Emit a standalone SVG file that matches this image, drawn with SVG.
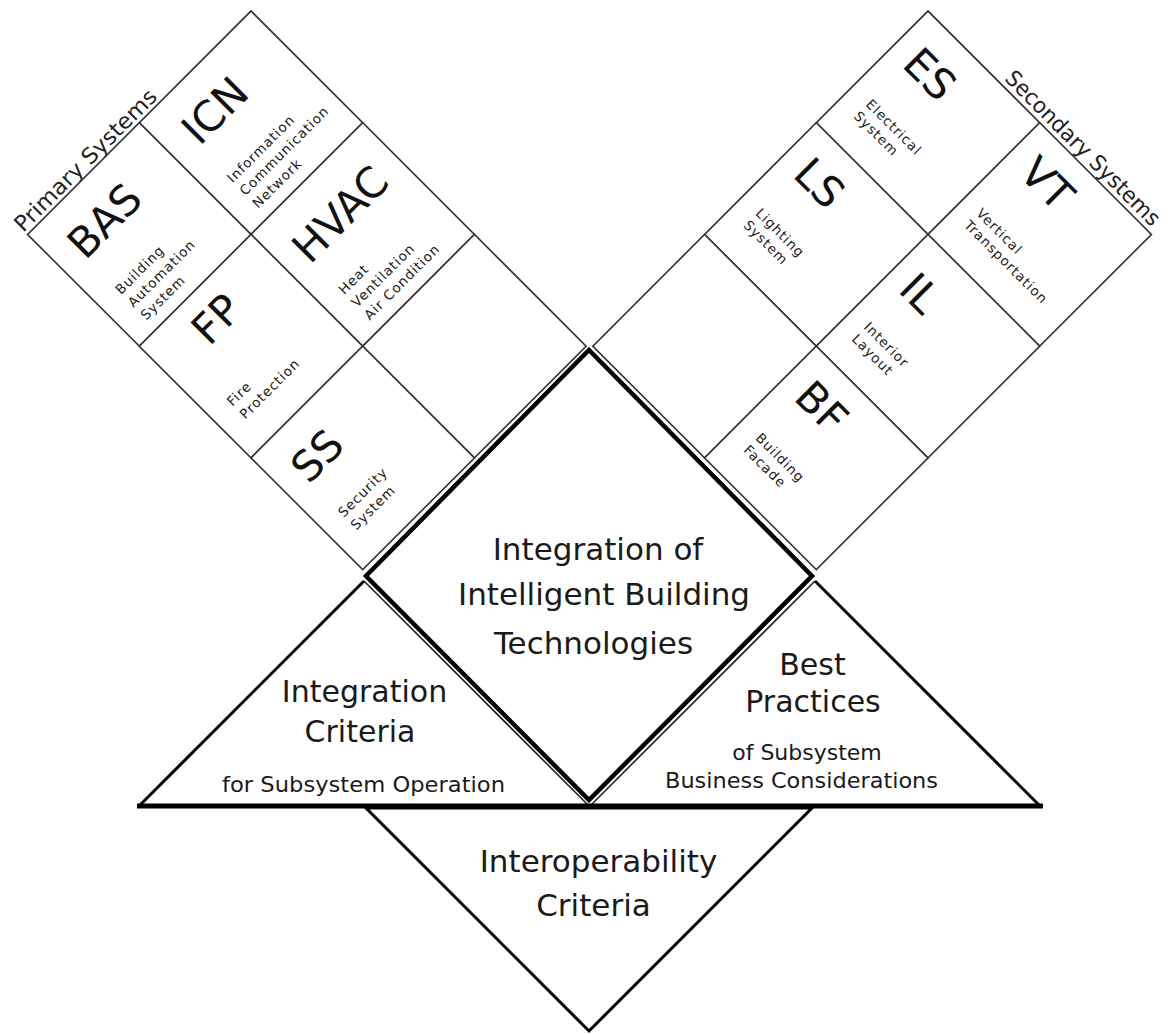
<svg xmlns="http://www.w3.org/2000/svg" width="1172" height="1034" viewBox="0 0 1172 1034">
<style>
  .cell{fill:#fff;stroke:#333;stroke-width:1.6}
  .big{font-family:"DejaVu Sans",Verdana,sans-serif;font-size:42px;fill:#111}
  .desc{font-family:"DejaVu Sans",Verdana,sans-serif;font-size:13.5px;letter-spacing:1px;fill:#222}
  .hdr{font-family:"DejaVu Sans",Verdana,sans-serif;font-size:22px;fill:#222}
  .main{font-family:"DejaVu Sans",Verdana,sans-serif;font-size:31px;fill:#1a1a1a;text-anchor:middle}
  .mid{font-family:"DejaVu Sans",Verdana,sans-serif;font-size:30px;fill:#1a1a1a;text-anchor:middle}
  .sub{font-family:"DejaVu Sans",Verdana,sans-serif;font-size:22px;fill:#1a1a1a;text-anchor:middle}
  .thin{fill:none;stroke:#222;stroke-width:1.6}
  .edge{fill:none;stroke:#000;stroke-width:3}
</style>
<rect width="1172" height="1034" fill="#fff"/>

<!-- Primary systems grid -->
<g id="primary-systems" transform="translate(251,11) rotate(-45)">
  <text class="hdr" x="-318" y="-4" textLength="191" lengthAdjust="spacingAndGlyphs">Primary Systems</text>
  <g id="ICN">
    <rect class="cell" x="-158" y="0" width="158" height="158"/>
    <text class="big" x="-132.5" y="59.5">ICN</text>
    <text class="desc"><tspan x="-135" y="109">Information</tspan><tspan x="-135" y="127">Communication</tspan><tspan x="-135" y="145">Network</tspan></text>
  </g>
  <g id="BAS">
    <rect class="cell" x="-316" y="0" width="158" height="158"/>
    <text class="big" x="-294" y="59.5">BAS</text>
    <text class="desc"><tspan x="-293" y="109">Building</tspan><tspan x="-293" y="127">Automation</tspan><tspan x="-293" y="145">System</tspan></text>
  </g>
  <g id="HVAC">
    <rect class="cell" x="-158" y="158" width="158" height="158"/>
    <text class="big" x="-138" y="221.5">HVAC</text>
    <text class="desc"><tspan x="-135" y="267">Heat</tspan><tspan x="-135" y="285">Ventilation</tspan><tspan x="-135" y="303">Air Condition</tspan></text>
  </g>
  <g id="FP">
    <rect class="cell" x="-316" y="158" width="158" height="158"/>
    <text class="big" x="-267" y="208">FP</text>
    <text class="desc"><tspan x="-293" y="267">Fire</tspan><tspan x="-293" y="285">Protection</tspan></text>
  </g>
  <g id="primary-empty">
    <rect class="cell" x="-158" y="316" width="158" height="158"/>
  </g>
  <g id="SS">
    <rect class="cell" x="-316" y="316" width="158" height="158"/>
    <text class="big" x="-294.5" y="376">SS</text>
    <text class="desc"><tspan x="-293" y="424">Security</tspan><tspan x="-293" y="442">System</tspan></text>
  </g>
</g>

<!-- Secondary systems grid -->
<g id="secondary-systems" transform="translate(928,11) rotate(45)">
  <text class="hdr" x="102" y="-5" textLength="209" lengthAdjust="spacingAndGlyphs">Secondary Systems</text>
  <g id="ES">
    <rect class="cell" x="0" y="0" width="158" height="158"/>
    <text class="big" x="19.5" y="58">ES</text>
    <text class="desc"><tspan x="22" y="111">Electrical</tspan><tspan x="22" y="128">System</tspan></text>
  </g>
  <g id="VT">
    <rect class="cell" x="158" y="0" width="158" height="158"/>
    <text class="big" x="179" y="52.5">VT</text>
    <text class="desc"><tspan x="177" y="110">Vertical</tspan><tspan x="177" y="127">Transportation</tspan></text>
  </g>
  <g id="LS">
    <rect class="cell" x="0" y="158" width="158" height="158"/>
    <text class="big" x="20" y="213">LS</text>
    <text class="desc"><tspan x="21" y="266">Lighting</tspan><tspan x="21" y="283">System</tspan></text>
  </g>
  <g id="IL">
    <rect class="cell" x="158" y="158" width="158" height="158"/>
    <text class="big" x="176" y="220">IL</text>
    <text class="desc"><tspan x="178" y="270">Interior</tspan><tspan x="178" y="287">Layout</tspan></text>
  </g>
  <g id="secondary-empty">
    <rect class="cell" x="0" y="316" width="158" height="158"/>
  </g>
  <g id="BF">
    <rect class="cell" x="158" y="316" width="158" height="158"/>
    <text class="big" x="178.5" y="370">BF</text>
    <text class="desc"><tspan x="180" y="425">Building</tspan><tspan x="180" y="442">Facade</tspan></text>
  </g>
</g>

<!-- Integration criteria triangle -->
<g id="integration-criteria">
  <path class="thin" d="M589,806 L364,581"/>
  <path class="edge" d="M364,581 L139,806"/>
  <text class="mid" x="364.5" y="702">Integration</text>
  <text class="mid" x="360" y="742">Criteria</text>
  <text class="sub" x="363.5" y="792" textLength="283" lengthAdjust="spacingAndGlyphs">for Subsystem Operation</text>
</g>

<!-- Best practices triangle -->
<g id="best-practices">
  <path class="thin" d="M590,806 L815,581"/>
  <path class="edge" d="M815,581 L1040,806"/>
  <text class="mid" x="812.5" y="675">Best</text>
  <text class="mid" x="813" y="712">Practices</text>
  <text class="sub" x="807" y="760">of Subsystem</text>
  <text class="sub" x="801.5" y="788" textLength="273" lengthAdjust="spacingAndGlyphs">Business Considerations</text>
</g>

<!-- Interoperability criteria inverted triangle -->
<g id="interoperability-criteria">
  <polygon class="edge" points="366,808 812,808 589,1031" stroke-linejoin="miter"/>
  <text class="main" x="598.5" y="872">Interoperability</text>
  <text class="main" x="593.5" y="916">Criteria</text>
</g>

<!-- base line -->
<g id="connectors">
  <line x1="137" y1="806" x2="1043" y2="806" stroke="#000" stroke-width="5"/>
</g>

<!-- Central diamond -->
<g id="integration-core">
  <polygon points="589,350 812,576 589,800 366,576" fill="none" stroke="#000" stroke-width="4.5" stroke-linejoin="miter"/>
  <text class="main" x="598" y="560">Integration of</text>
  <text class="main" x="604" y="605">Intelligent Building</text>
  <text class="main" x="593.5" y="654">Technologies</text>
</g>
</svg>
